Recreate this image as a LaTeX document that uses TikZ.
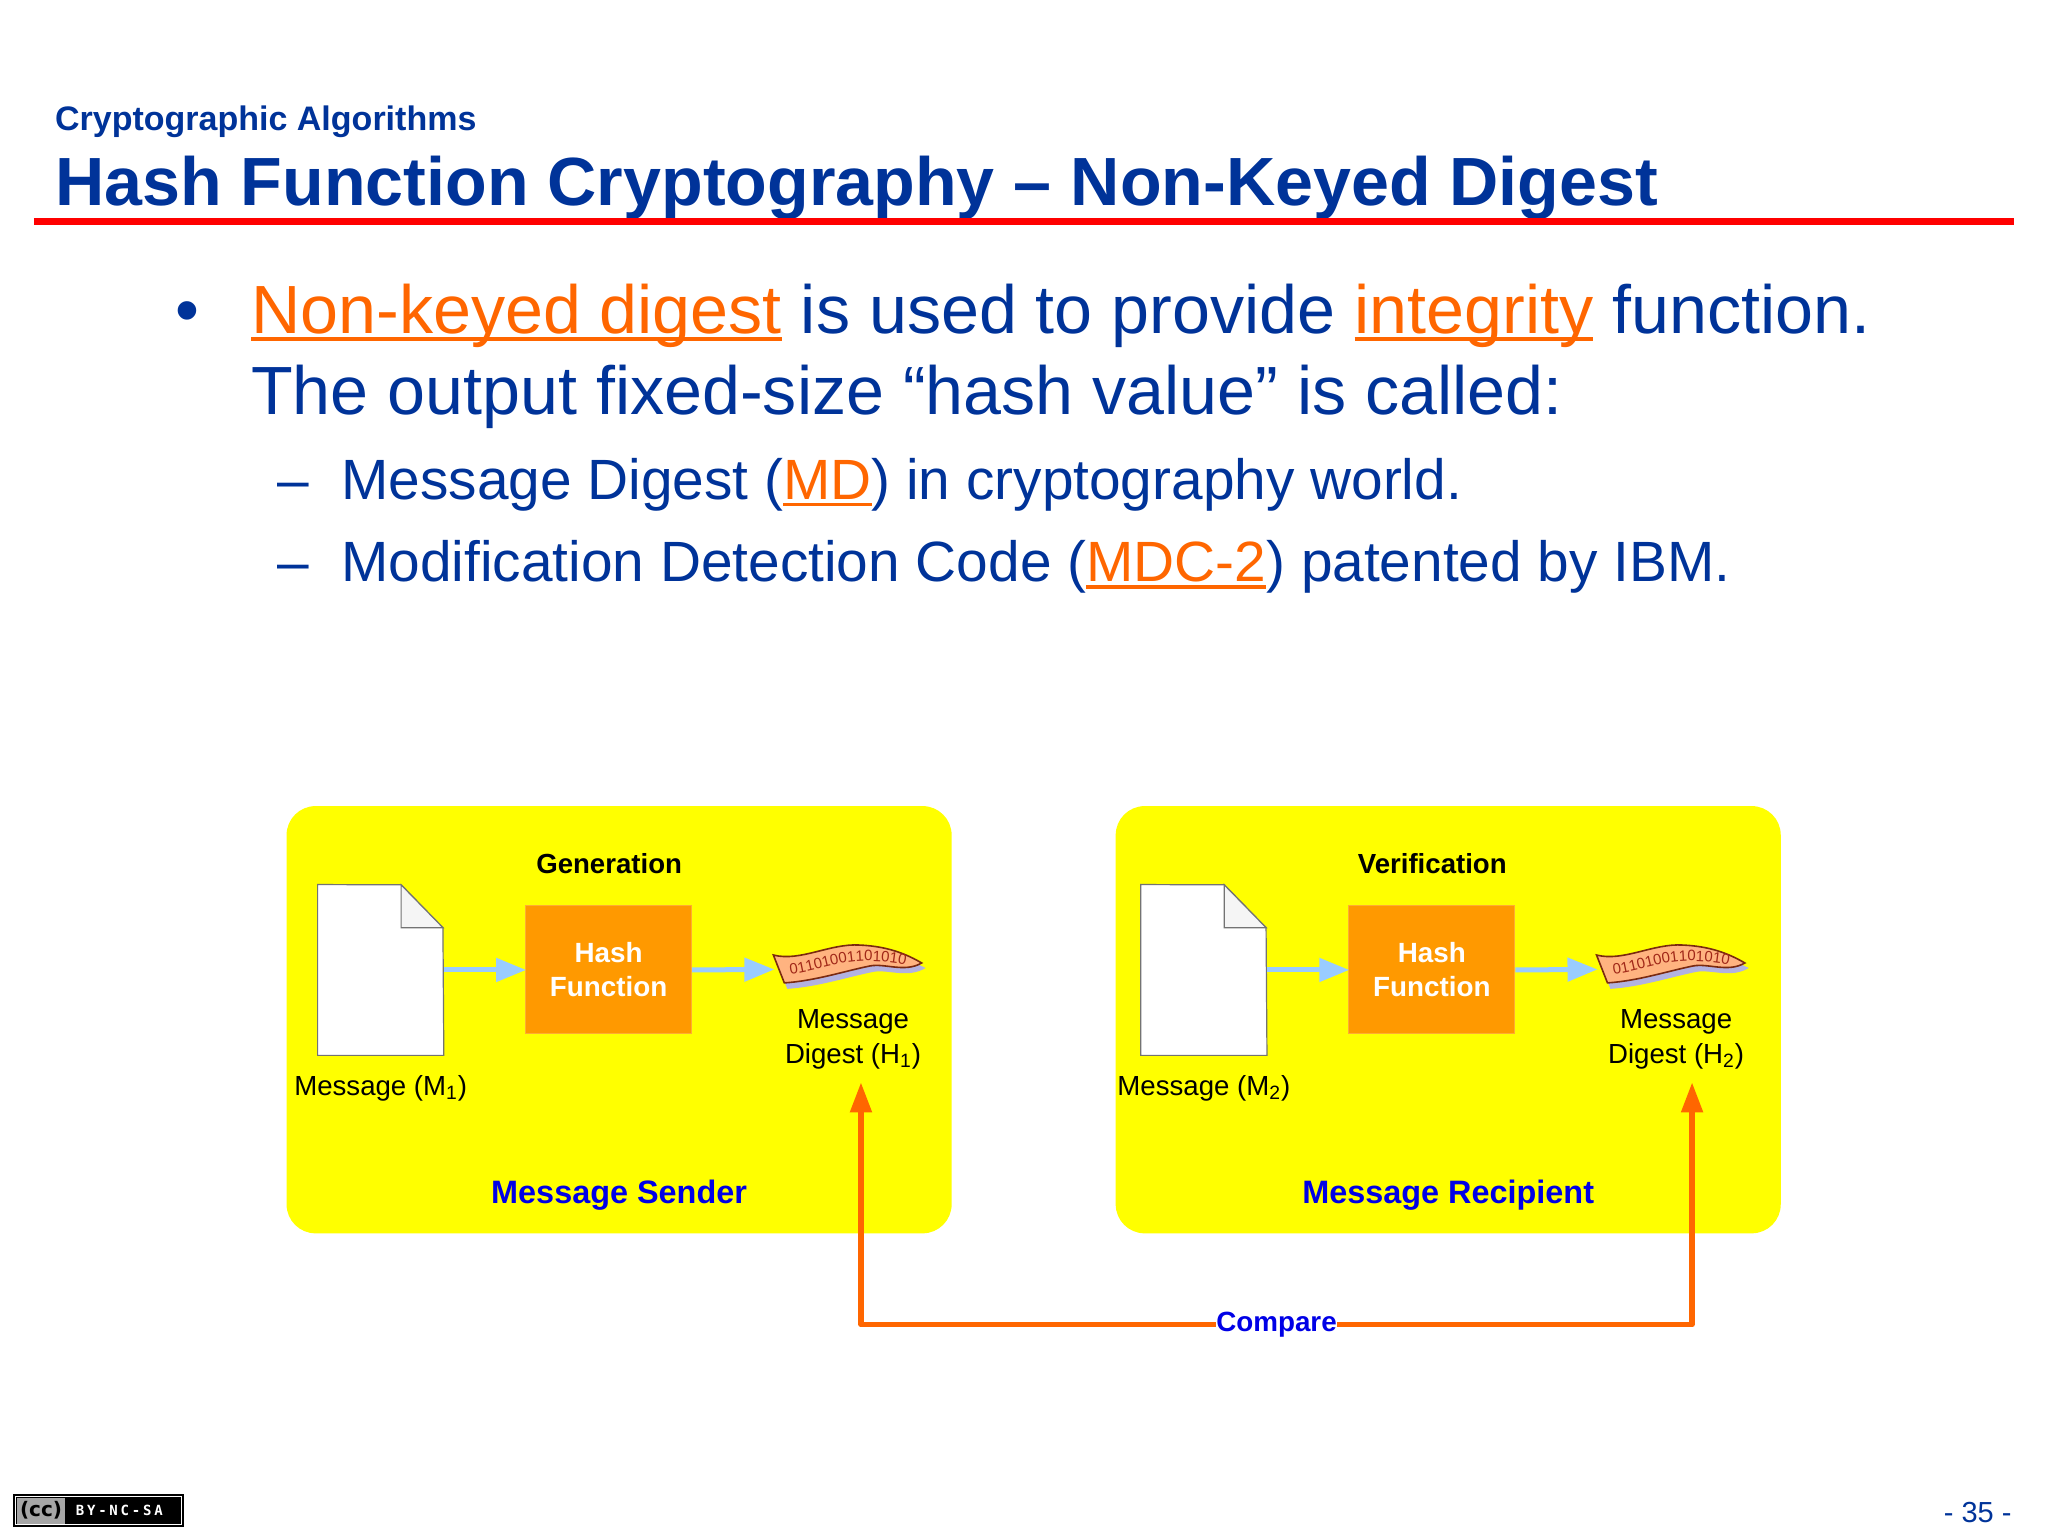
\documentclass[tikz,border=0pt]{standalone}
\usepackage{fontspec}
\setmainfont{Liberation Sans}
\newfontfamily\badgefont[LetterSpace=20]{DejaVu Sans Mono}
\newfontfamily\ccfont{DejaVu Sans}
\usetikzlibrary{arrows.meta,positioning,decorations.text}
\definecolor{slideblue}{HTML}{003399}
\definecolor{keyorange}{HTML}{FF6600}
\definecolor{hashorange}{HTML}{FF9900}
\definecolor{flowblue}{HTML}{99CCFF}
\definecolor{labelblue}{HTML}{0000E6}
\definecolor{bannerpink}{HTML}{FFB380}
\definecolor{panelyellow}{HTML}{FFFF00}
\definecolor{bannerline}{HTML}{7A2A10}
\definecolor{bannertext}{HTML}{A02818}
\newcommand{\keyword}[1]{\setbox0\hbox{#1}\textcolor{keyorange}{\rlap{\rule[-.12em]{\wd0}{.06em}}#1}}
\tikzset{
  textline/.style={anchor=base west,inner sep=0pt,text=slideblue},
  bigline/.style={textline,font=\fontsize{34.1}{34}\selectfont},
  subline/.style={textline,font=\fontsize{28.4}{28}\selectfont},
  panel/.style={fill=panelyellow,rounded corners=14.5pt,minimum width=332.5pt,minimum height=213.6pt,inner sep=0pt},
  hashbox/.style={fill=hashorange,draw=hashorange!80!white,line width=.5pt,minimum width=83pt,minimum height=64pt,inner sep=0pt,
    text=white,align=center,font=\bfseries\fontsize{13.9}{17}\selectfont},
  docbox/.style={minimum width=62.7pt,minimum height=85pt,inner sep=0pt},
  smalltext/.style={align=center,inner sep=0pt,font=\fontsize{13.8}{17.5}\selectfont},
  ownertext/.style={text=labelblue,font=\bfseries\fontsize{16.2}{20}\selectfont},
  flow/.style={flowblue,line width=2.5pt,-{Triangle[length=15pt,width=11.5pt]},shorten >=-.5pt},
  compareline/.style={keyorange,line width=2.6pt,line join=round},
  comparetip/.style={-{Triangle[length=15pt,width=10.5pt]}},
}
\begin{document}
\begin{tikzpicture}[x=.4976pt,y=-.4976pt]
  \useasboundingbox (0,0) rectangle (2057.6,1543.2);
  % slide heading
  \node[textline,font=\bfseries\fontsize{17}{20}\selectfont] (section) at (55,131) {Cryptographic Algorithms};
  \node[textline,font=\bfseries\fontsize{34.1}{36}\selectfont] (title) at (55,206) {Hash Function Cryptography -- Non-Keyed Digest};
  \draw[red,line width=3.4pt] (34,222.7)--(2023.5,222.7);
  % slide text
  \node[bigline] (bullet) at (176,334.6) {•};
  \node[bigline] (lineone) at (252,334.6) {\keyword{Non-keyed digest} is used to provide \keyword{integrity} function.};
  \node[bigline] (linetwo) at (252,416.6) {The output fixed-size “hash value” is called:};
  \node[subline] (dashone) at (278,501.5) {--};
  \node[subline] (subone) at (342.5,501.5) {Message Digest (\keyword{MD}) in cryptography world.};
  \node[subline] (dashtwo) at (278,584.5) {--};
  \node[subline] (subtwo) at (342.5,584.5) {Modification Detection Code (\keyword{MDC-2}) patented by IBM.};
  % the two yellow panels
  \node[panel] (sender) at (622,1024.5) {};
  \node[panel] (recipient) at (1455,1024.5) {};
  \node[ownertext] (sendername) at (622,1200.5) {Message Sender};
  \node[ownertext] (recipientname) at (1455,1200.5) {Message Recipient};
  % panel contents, the second one shifted
  \foreach \n/\x/\what in {1/0/Generation,2/827/Verification}{
    \node[font=\bfseries\fontsize{13.8}{17}\selectfont] (what\n) at (612+\x,868) {\what};
    \node[docbox] (doc\n) at (382.5+\x,974.5) {};
    \draw[fill=white,draw=black!55,line width=.6pt] (doc\n.north west)--(403+\x,889)--(445+\x,932)--(doc\n.south east)--(doc\n.south west)--cycle;
    \draw[fill=black!4,draw=black!55,line width=.6pt] (403+\x,889)--(403+\x,932)--(445+\x,932)--cycle;
    \node[hashbox] (hash\n) at (611.5+\x,974.5) {Hash\\Function};
    \coordinate (banner\n) at (777+\x,974);
    \begin{scope}[shift={(\x+4,4.5)}]
      \fill[black!40!blue!30!white] (776,962) .. controls (803,969) and (833,950) .. (863,952) .. controls (883,953) and (903,957) .. (926,968)
        .. controls (908,979) and (888,969) .. (873,972) .. controls (848,977) and (818,987) .. (787,989)--cycle;
      \draw[fill=bannerpink,draw=bannerline,line width=.8pt] (773,955) .. controls (800,962) and (830,943) .. (860,945) .. controls (880,946) and (900,950) .. (922,963)
        .. controls (905,973) and (885,963) .. (870,966) .. controls (845,971) and (815,981) .. (784,983)--cycle;
      \path[decorate,decoration={text along path,text align=center,
        text={|\fontsize{7.5}{7.5}\selectfont\color{bannertext}|01101001101010}}]
        (785,975) .. controls (810,973) and (835,962) .. (862,961) .. controls (880,961) and (895,962) .. (911,966);
    \end{scope}
    \node[smalltext] (msg\n) at (382.5+\x,1093) {Message (M\textsubscript{\n})};
    \node[smalltext] (digest\n) at (857+\x,1044) {Message\\Digest (H\textsubscript{\n})};
    \draw[flow] (doc\n.east)--(hash\n.west);
    \draw[flow] (hash\n.east)--(banner\n);
  }
  % comparison of the two digests
  \coordinate (tipone) at (865,1087.5);
  \coordinate (tiptwo) at (1700,1087.5);
  \node[fill=white,inner sep=0pt,text=labelblue,font=\bfseries\fontsize{13.9}{17}\selectfont] (compare) at (1282.5,1331) {Compare};
  \draw[compareline,comparetip] (compare.west)-|(tipone);
  \draw[compareline,comparetip] (compare.east)-|(tiptwo);
  % footer
  \node[fill=black,minimum width=85.5pt,minimum height=16.5pt,inner sep=0pt] (badge) at (99.3,1517.6) {};
  \node[draw=white,line width=.4pt,minimum width=83pt,minimum height=14pt,inner sep=0pt] (badgeframe) at (badge) {};
  \node[fill=black!35,minimum width=24pt,minimum height=13pt,inner sep=0pt,font=\ccfont\bfseries\fontsize{10}{10}\selectfont] (badgecc) at (41.2,1517.6) {(cc)};
  \node[right=5pt of badgecc,inner sep=0pt,text=white,font=\badgefont\bfseries\fontsize{7}{8}\selectfont] (badgetext) {BY-NC-SA};
  \node[text=slideblue,inner sep=0pt,font=\fontsize{14.5}{17}\selectfont] (pagenum) at (1987,1520) {- 35 -};
\end{tikzpicture}
\end{document}
